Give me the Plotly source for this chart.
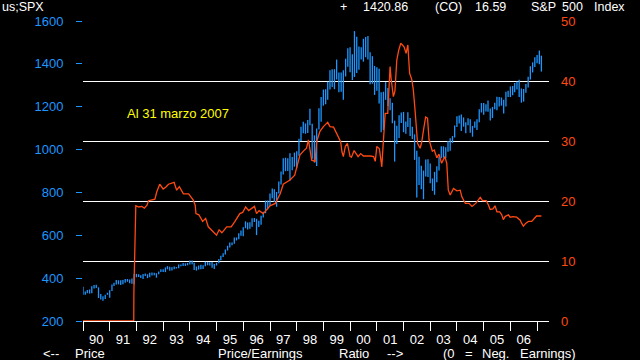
import plotly.graph_objects as go
import pandas as pd

# ---------------- data ----------------
months = pd.date_range("1990-01-01", "2007-03-01", freq="MS")

price_low = [
    322, 322, 330, 328, 330, 352, 354, 307, 300, 295, 303, 322,          # 1990
    309, 340, 363, 370, 371, 368, 371, 378, 383, 376, 374, 371,          # 1991
    404, 405, 401, 396, 410, 400, 404, 412, 413, 402, 418, 429,          # 1992
    429, 428, 441, 435, 436, 441, 445, 446, 456, 457, 457, 460,          # 1993
    464, 465, 438, 435, 440, 441, 443, 455, 460, 459, 448, 443,          # 1994
    459, 469, 483, 499, 510, 529, 543, 553, 560, 576, 582, 598,          # 1995
    595, 633, 627, 630, 640, 662, 601, 639, 649, 683, 703, 720,          # 1996
    737, 773, 755, 733, 795, 837, 884, 899, 900, 855, 903, 920,          # 1997
    912, 971, 1040, 1076, 1074, 1077, 1114, 957, 939, 923, 1094, 1130,   # 1998
    1205, 1212, 1233, 1280, 1292, 1282, 1327, 1268, 1270, 1233, 1341, 1387,  # 1999
    1361, 1325, 1339, 1357, 1373, 1420, 1410, 1431, 1420, 1305, 1307, 1255,  # 2000
    1275, 1215, 1081, 1091, 1232, 1203, 1183, 1123, 944, 1026, 1054, 1124,   # 2001
    1081, 1074, 1105, 1063, 1049, 952, 776, 835, 815, 768, 874, 872,         # 2002
    843, 807, 789, 847, 902, 960, 962, 960, 990, 995, 1031, 1056,            # 2003
    1105, 1122, 1087, 1107, 1076, 1113, 1078, 1060, 1102, 1091, 1127, 1173,  # 2004
    1163, 1178, 1176, 1136, 1147, 1188, 1183, 1201, 1205, 1168, 1201, 1245,  # 2005
    1245, 1253, 1268, 1280, 1245, 1219, 1224, 1265, 1290, 1327, 1360, 1385,  # 2006
    1403, 1398, 1364,                                                        # 2007
]

price_high = [
    360, 338, 345, 347, 362, 368, 369, 357, 326, 315, 323, 332,
    344, 370, 378, 391, 390, 390, 391, 396, 396, 394, 398, 419,
    420, 418, 414, 419, 422, 418, 425, 426, 425, 423, 431, 442,
    442, 450, 456, 453, 451, 454, 452, 464, 464, 471, 469, 471,
    482, 482, 472, 454, 459, 463, 460, 477, 476, 474, 475, 466,
    472, 489, 505, 516, 534, 551, 566, 566, 590, 590, 609, 622,
    638, 665, 660, 661, 680, 681, 677, 668, 691, 710, 762, 762,
    795, 818, 815, 802, 851, 898, 960, 962, 960, 983, 965, 986,
    992, 1050, 1106, 1130, 1122, 1138, 1190, 1121, 1066, 1098, 1193, 1245,
    1280, 1281, 1316, 1370, 1375, 1375, 1420, 1360, 1360, 1370, 1424, 1473,
    1478, 1445, 1553, 1527, 1481, 1478, 1517, 1525, 1530, 1454, 1436, 1390,
    1384, 1377, 1268, 1270, 1315, 1287, 1240, 1218, 1135, 1111, 1160, 1173,
    1176, 1131, 1174, 1147, 1107, 1071, 994, 966, 925, 902, 954, 955,
    935, 865, 896, 922, 965, 1015, 1015, 1011, 1040, 1053, 1063, 1112,
    1155, 1159, 1164, 1150, 1127, 1146, 1141, 1110, 1131, 1142, 1188, 1217,
    1217, 1212, 1229, 1192, 1199, 1219, 1246, 1245, 1243, 1233, 1270, 1275,
    1295, 1297, 1311, 1318, 1326, 1285, 1283, 1306, 1340, 1389, 1407, 1431,
    1441, 1462, 1438,
]

pe_dates = [
    "1990-01-01", "1991-11-26", "1991-11-28", "1991-12-10", "1991-12-24",
    "1992-02-05", "1992-03-15", "1992-04-20", "1992-05-25", "1992-06-15", "1992-08-05", "1992-09-10",
    "1992-10-05", "1992-11-15", "1993-01-01", "1993-02-05", "1993-03-15", "1993-05-30", "1993-07-05",
    "1993-08-10", "1993-10-05", "1993-12-15", "1994-02-15", "1994-03-15", "1994-03-25", "1994-05-05",
    "1994-06-25", "1994-08-05", "1994-09-10", "1994-10-20", "1994-11-15", "1995-01-01", "1995-02-05",
    "1995-03-15", "1995-05-20", "1995-07-20", "1995-09-10", "1995-11-15", "1995-12-25", "1996-02-03",
    "1996-03-15", "1996-05-01", "1996-06-03", "1996-07-01", "1996-08-05", "1996-10-01", "1996-11-15",
    "1997-01-01", "1997-03-15", "1997-05-20", "1997-07-01", "1997-10-01", "1997-12-05", "1998-01-01",
    "1998-02-15", "1998-04-10", "1998-05-15", "1998-06-10", "1998-07-01", "1998-07-25", "1998-09-10",
    "1998-10-01", "1998-11-15", "1999-01-01", "1999-03-01", "1999-04-01", "1999-05-20", "1999-07-01",
    "1999-08-25", "1999-09-12", "1999-10-01", "1999-10-28", "1999-11-25", "2000-01-01", "2000-01-20",
    "2000-02-25", "2000-04-20", "2000-05-25", "2000-07-01", "2000-10-01", "2000-11-18", "2000-12-10",
    "2001-01-01", "2001-02-05", "2001-03-10", "2001-03-25", "2001-04-25", "2001-05-30", "2001-06-15",
    "2001-07-01", "2001-07-15", "2001-08-15", "2001-09-05", "2001-10-01", "2001-10-28", "2001-11-25",
    "2002-01-08", "2002-02-05", "2002-03-01", "2002-03-25", "2002-04-25", "2002-05-15", "2002-06-05",
    "2002-07-01", "2002-07-12", "2002-08-15", "2002-09-05", "2002-10-01", "2002-10-30", "2002-11-25",
    "2002-12-16", "2003-01-30", "2003-02-25", "2003-04-01", "2003-05-01", "2003-06-05", "2003-07-20",
    "2003-08-15", "2003-09-05", "2003-10-01", "2003-11-15", "2004-01-01", "2004-02-15", "2004-03-08",
    "2004-04-25", "2004-06-15", "2004-07-25", "2004-09-15", "2004-11-15", "2004-12-15", "2005-02-05",
    "2005-03-08", "2005-03-30", "2005-05-08", "2005-06-05", "2005-07-01", "2005-08-08", "2005-09-05",
    "2005-09-27", "2005-10-20", "2005-12-05", "2005-12-28", "2006-02-05", "2006-03-28", "2006-05-15",
    "2006-06-03", "2006-06-28", "2006-08-01", "2006-09-05", "2006-10-20", "2006-12-05", "2006-12-25",
    "2007-03-01",
]

pe_values = [
    0.0, 0.0, 4.9, 14.7, 19.2,
    19.0, 19.1, 18.8, 19.3, 20.05, 20.2, 20.3,
    21.5, 22.8, 22.0, 22.3, 22.8, 23.1, 21.8,
    22.4, 21.2, 21.2, 20.2, 19.3, 17.9, 17.7,
    16.6, 17.1, 15.7, 15.2, 14.9, 14.3, 15.2,
    14.7, 15.7, 15.7, 16.6, 17.9, 18.1, 19.0,
    18.4, 18.8, 19.1, 17.9, 18.4, 17.9, 18.5,
    19.2, 19.6, 21.2, 22.8, 23.5, 24.3, 25.7,
    27.7, 28.4, 28.8, 30.2, 28.5, 26.8, 26.6,
    29.9, 31.6, 32.4, 33.1, 32.4, 32.3, 31.3,
    29.9, 28.2, 27.4, 29.1, 29.6, 27.4, 27.3,
    28.4, 27.4, 27.9, 27.5, 27.5, 27.4, 26.6,
    29.1, 28.7, 25.7, 28.8, 34.6, 34.6, 40.2,
    42.4, 40.4, 37.4, 38.3, 43.5, 45.2, 46.3,
    45.7, 44.6, 46.0, 41.3, 40.2, 38.5, 35.5,
    30.2, 29.6, 28.8, 29.7, 31.8, 34.0, 33.8,
    30.2, 28.3, 28.5, 27.2, 27.8, 26.3, 27.4,
    26.3, 21.8, 21.0, 22.1, 21.7, 21.8, 20.7,
    19.6, 19.6, 19.1, 19.6, 20.6, 20.05, 20.05,
    19.3, 18.6, 18.7, 19.2, 18.2, 18.2, 17.7,
    16.9, 17.4, 17.7, 17.3, 17.4, 17.3, 16.8,
    16.3, 15.8, 16.3, 16.6, 16.6, 17.3, 17.5,
    17.5,
]

left_ticks = [200, 400, 600, 800, 1000, 1200, 1400, 1600]
right_ticks = [0, 10, 20, 30, 40, 50]

header_texts = ["us;SPX", "+", "1420.86", "(CO)", "16.59", "S&P", "500", "Index"]
footer_texts = ["<--", "Price", "Price/Earnings", "Ratio", "-->", "(0", "=", "Neg.", "Earnings)"]
note_text = "Al 31 marzo 2007"

# ---------------- style ----------------
BLUE = "#1E96FF"
RED = "#FF4A12"
FONT = "Liberation Sans, Arial, sans-serif"
L, R, T, B = 83, 549, 21, 321   # plot area in pixels


def pxx(x):
    return (x - L) / (R - L)


def pxy(y):
    return (B - y) / (B - T)


# price bars (high-low) built from the data
bar_x, bar_y = [], []
for d, lo, hi in zip(months, price_low, price_high):
    bar_x += [d, d, None]
    bar_y += [lo, hi, None]

fig = go.Figure()
fig.add_trace(go.Scatter(x=bar_x, y=bar_y, mode="lines", yaxis="y",
                         line=dict(color=BLUE, width=1.3), hoverinfo="skip"))
fig.add_trace(go.Scatter(x=pd.to_datetime(pe_dates), y=pe_values, mode="lines", yaxis="y2",
                         line=dict(color=RED, width=1.3), hoverinfo="skip"))

annotations = []
header_x = [0, 338, 361, 433, 473, 529, 560, 592]
for t, x in zip(header_texts, header_x):
    annotations.append(dict(text=t, x=pxx(x), y=pxy(7), xref="paper", yref="paper",
                            xanchor="left", yanchor="middle", showarrow=False,
                            font=dict(color="white", size=12.5, family=FONT)))
footer_x = [41, 73, 216, 337, 385, 441, 463, 480, 518]
for t, x in zip(footer_texts, footer_x):
    annotations.append(dict(text=t, x=pxx(x), y=pxy(353), xref="paper", yref="paper",
                            xanchor="left", yanchor="middle", showarrow=False,
                            font=dict(color="white", size=13, family=FONT)))
annotations.append(dict(text=note_text, x=pxx(125), y=pxy(113), xref="paper", yref="paper",
                        xanchor="left", yanchor="middle", showarrow=False,
                        font=dict(color="#FFFF00", size=13, family=FONT)))

fig.update_layout(
    width=640, height=360,
    margin=dict(l=L, r=640 - R, t=T, b=360 - B, pad=0),
    paper_bgcolor="black", plot_bgcolor="black",
    showlegend=False,
    font=dict(family=FONT, size=13, color="white"),
    annotations=annotations,
    xaxis=dict(
        type="date", range=["1990-01-01", "2007-06-13"],
        tick0="1990-01-01", dtick="M12", tickformat="%y", ticklabelmode="period",
        ticks="outside", ticklen=9, tickwidth=1, tickcolor="white",
        showline=True, linecolor="white", linewidth=1,
        showgrid=False, zeroline=False, layer="below traces",
        tickfont=dict(color="white", size=13, family=FONT),
        ticklabelstandoff=-3,
    ),
    yaxis=dict(
        range=[200, 1600], tickvals=left_ticks,
        ticks="outside", ticklen=6, tickwidth=1, tickcolor=BLUE,
        showgrid=False, zeroline=False, showline=False,
        tickfont=dict(color=BLUE, size=13, family=FONT),
        ticklabelstandoff=10,
    ),
    yaxis2=dict(
        range=[0, 50], tickvals=right_ticks, overlaying="y", side="right",
        ticks="", showgrid=True, gridcolor="white", gridwidth=1,
        zeroline=False, showline=False,
        tickfont=dict(color=RED, size=13, family=FONT),
        ticklabelstandoff=11,
    ),
)

fig.write_html(
    "out.html",
    config={"displayModeBar": False},
    post_script="document.body.style.margin='0';document.body.style.background='black';"
                "document.body.style.overflow='hidden';",
)
